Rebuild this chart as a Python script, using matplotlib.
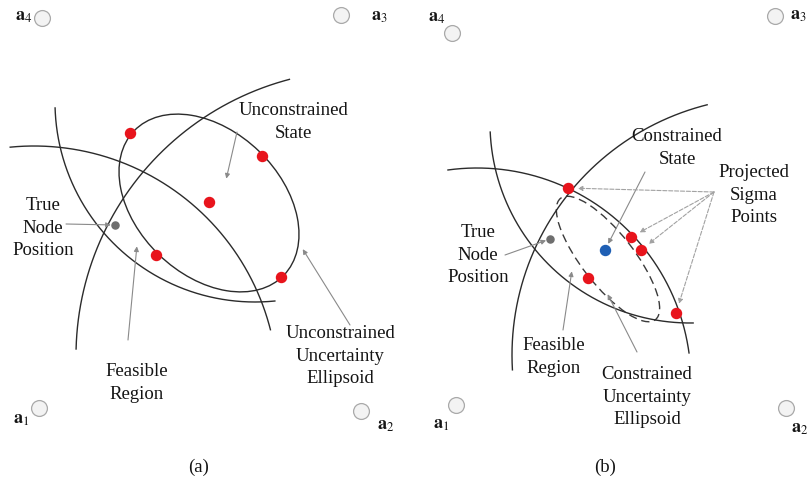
import numpy as np
import matplotlib
matplotlib.use("Agg")
from matplotlib import pyplot as plt
from matplotlib.patches import Ellipse

plt.rcParams['font.family'] = ['Liberation Serif', 'DejaVu Serif']
plt.rcParams['mathtext.fontset'] = 'stix'

# Anchor nodes a1..a4 (pixel coordinates, y pointing down)
anchor_names = ['1', '2', '3', '4']
anchor_x_a = [39, 361, 341, 42]
anchor_y_a = [408, 411, 15, 18]
anchor_x_b = [456, 786, 775, 452]
anchor_y_b = [405, 408, 16, 33]

# Range circles: centre x, centre y, radius, start angle, end angle (deg)
arcs_a = [
    (34, 390, 244, -95.6, -14.3),
    (255, 102, 200, 84.3, 178.3),
    (362, 356, 286, 181.4, 255.3),
]
arcs_b = [
    (477, 382, 214, -97.8, -7.8),
    (690, 123, 200, 89.1, 177.4),
    (770, 355, 258, 176.7, 255.9),
]

# Unconstrained sigma points (a) and projected sigma points (b)
sigma_x_a = [130, 262, 209, 156, 281]
sigma_y_a = [133, 156, 202, 255, 277]
proj_x_b = [568, 631, 641, 676, 588]
proj_y_b = [188, 237, 250, 313, 278]
constrained_state = (605, 250)

true_node_a = (115, 225)
true_node_b = (550, 239)

# Uncertainty ellipses: centre, full width, full height, angle
ellipse_a = (209, 203, 208, 144, 44)
ellipse_b = (608, 259, 154, 52, 52)

TXT = '#141414'
LINE = '#2b2b2b'
ARROW = '#8a8a8a'
FS = 13.5


def draw_arc(ax, cx, cy, r, t1, t2):
    t = np.radians(np.linspace(t1, t2, 200))
    ax.plot(cx + r * np.cos(t), cy + r * np.sin(t), color=LINE, lw=1.0)


def draw_anchors(ax, xs, ys, label_pos):
    ax.scatter(xs, ys, s=130, facecolor='#f3f3f3', edgecolor='#a9a9a9',
               linewidth=0.9, zorder=3)
    for name, (lx, ly) in zip(anchor_names, label_pos):
        ax.text(lx, ly, r'$\mathbf{a}_{\mathrm{%s}}$' % name, ha='center',
                va='center', fontsize=13, color=TXT)


def arrow(ax, start, end, dashed=False, shrink=1):
    ax.annotate('', xy=end, xytext=start,
                arrowprops=dict(arrowstyle='-|>', color='#a2a2a2' if dashed else ARROW,
                                lw=0.8, ls='--' if dashed else '-',
                                mutation_scale=7, shrinkA=0, shrinkB=shrink))


def label(ax, x, y, s):
    ax.text(x, y, s, ha='center', va='center', fontsize=FS, color=TXT,
            linespacing=1.42)


fig = plt.figure(figsize=(8.1, 4.9), dpi=100)
ax = fig.add_axes([0, 0, 1, 1])
ax.set_xlim(0, 810)
ax.set_ylim(490, 0)
ax.axis('off')

# ---- (a) unconstrained ----
for a in arcs_a:
    draw_arc(ax, *a)
cx, cy, w, h, ang = ellipse_a
ax.add_patch(Ellipse((cx, cy), w, h, angle=ang, fill=False, ec=LINE, lw=1.0))
ax.scatter(sigma_x_a, sigma_y_a, s=52, color='#e8141c', zorder=4)
ax.scatter(*true_node_a, s=26, color='#6e6e6e', zorder=4)
draw_anchors(ax, anchor_x_a, anchor_y_a,
             [(21, 419), (386, 425), (379, 16), (24, 16)])

label(ax, 293, 122, 'Unconstrained\nState')
label(ax, 43, 228, 'True\nNode\nPosition')
label(ax, 137, 383, 'Feasible\nRegion')
label(ax, 340, 356, 'Unconstrained\nUncertainty\nEllipsoid')
arrow(ax, (237, 132), (226, 180))
arrow(ax, (66, 224), true_node_a, shrink=3)
arrow(ax, (128, 340), (137, 245))
arrow(ax, (350, 325), (302, 248))

# ---- (b) constrained ----
for a in arcs_b:
    draw_arc(ax, *a)
cx, cy, w, h, ang = ellipse_b
ax.add_patch(Ellipse((cx, cy), w, h, angle=ang, fill=False, ec='#3a3a3a',
                     lw=1.0, ls=(0, (6, 3.5))))
ax.scatter(proj_x_b, proj_y_b, s=52, color='#e8141c', zorder=4)
ax.scatter(*constrained_state, s=52, color='#1f5fb4', zorder=4)
ax.scatter(*true_node_b, s=26, color='#6e6e6e', zorder=4)
draw_anchors(ax, anchor_x_b, anchor_y_b,
             [(441, 424), (800, 428), (798, 15), (437, 17)])

label(ax, 677, 148, 'Constrained\nState')
label(ax, 754, 195, 'Projected\nSigma\nPoints')
label(ax, 478, 255, 'True\nNode\nPosition')
label(ax, 554, 357, 'Feasible\nRegion')
label(ax, 647, 397, 'Constrained\nUncertainty\nEllipsoid')
arrow(ax, (645, 172), constrained_state, shrink=5)
arrow(ax, (505, 255), true_node_b, shrink=3)
arrow(ax, (563, 330), (572, 270))
arrow(ax, (637, 352), (607, 293))
for px, py in zip(proj_x_b[:4], proj_y_b[:4]):
    arrow(ax, (714, 192), (px, py), dashed=True, shrink=7)

ax.text(199, 467, '(a)', ha='center', va='center', fontsize=FS, color=TXT)
ax.text(605, 467, '(b)', ha='center', va='center', fontsize=FS, color=TXT)

fig.savefig('out.png', dpi=100)
